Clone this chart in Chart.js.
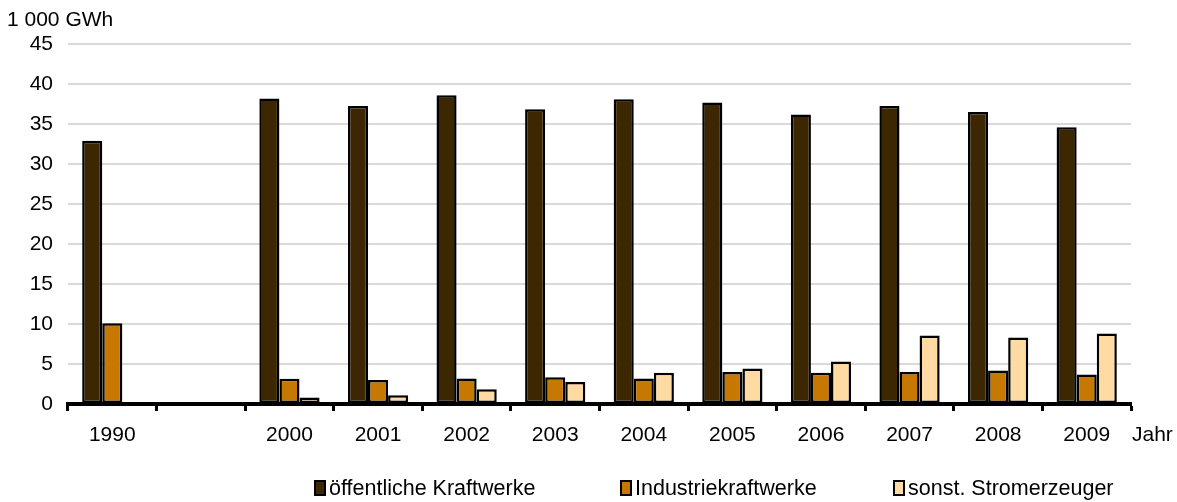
<!DOCTYPE html>
<html>
<head>
<meta charset="utf-8">
<script src="https://cdn.jsdelivr.net/npm/chart.js@4/dist/chart.umd.min.js"></script>
<style>
  html, body { margin:0; padding:0; background:#fff; }
  #wrap { position:relative; width:1177px; height:502px; font-family:"Liberation Sans", Arial, sans-serif; color:#000; }
  #c { position:absolute; left:0; top:0; }
  .lbl { position:absolute; white-space:nowrap; font-size:21px; line-height:21px; }
  .leg { position:absolute; white-space:nowrap; font-size:21.5px; line-height:22px; display:flex; align-items:center; }
  .box { display:inline-block; width:8px; height:12px; border:2px solid #000; margin-right:3px; }
</style>
</head>
<body>
<div id="wrap">
  <canvas id="c" width="1177" height="502"></canvas>
  <div class="lbl" style="left:7px; top:8px;">1 000 GWh</div>
  <div class="lbl" style="left:1132px; top:423px;">Jahr</div>
  <div class="leg" style="left:314px; top:477px;"><span class="box" style="background:#3d2700"></span>öffentliche Kraftwerke</div>
  <div class="leg" style="left:620px; top:477px;"><span class="box" style="background:#c77800"></span>Industriekraftwerke</div>
  <div class="leg" style="left:893px; top:477px;"><span class="box" style="background:#ffdba3"></span>sonst. Stromerzeuger</div>
</div>
<script>
const categories = ['1990', '', '2000', '2001', '2002', '2003', '2004', '2005', '2006', '2007', '2008', '2009'];
const oeffentliche = [32.9, null, 38.2, 37.25, 38.6, 36.85, 38.1, 37.7, 36.2, 37.25, 36.5, 34.6];
const industrie = [10.1, null, 3.15, 3.0, 3.2, 3.35, 3.2, 4.0, 3.9, 4.0, 4.2, 3.7];
const sonstige = [null, null, 0.8, 1.1, 1.85, 2.75, 3.9, 4.45, 5.3, 8.55, 8.3, 8.8];
const yTicks = [0, 5, 10, 15, 20, 25, 30, 35, 40, 45];
const seriesNames = ['öffentliche Kraftwerke', 'Industriekraftwerke', 'sonst. Stromerzeuger'];

const common = { borderColor:'#000', borderWidth:2.5, borderSkipped:false, barPercentage:1.0, categoryPercentage:0.68 };

new Chart(document.getElementById('c'), {
  type: 'bar',
  data: {
    labels: categories,
    datasets: [
      Object.assign({ label: seriesNames[0], data: oeffentliche, backgroundColor:'#3d2700' }, common),
      Object.assign({ label: seriesNames[1], data: industrie, backgroundColor:'#c77800' }, common),
      Object.assign({ label: seriesNames[2], data: sonstige, backgroundColor:'#ffdba3' }, common)
    ]
  },
  options: {
    responsive: false,
    animation: false,
    devicePixelRatio: 1,
    layout: { padding: { top: 44, right: 46, left: 0, bottom: 0 } },
    plugins: { legend: { display: false }, tooltip: { enabled: false } },
    scales: {
      x: {
        offset: true,
        grid: { drawOnChartArea: false, drawTicks: true, tickLength: 7, tickWidth: 3, tickColor: '#000', offset: true },
        border: { color: '#000', width: 4 },
        ticks: { color: '#000', font: { family: 'Liberation Sans', size: 21 }, padding: 12, maxRotation: 0, autoSkip: false },
        afterFit: s => { s.height = 98; }
      },
      y: {
        min: 0, max: 45,
        afterBuildTicks: s => { s.ticks = yTicks.map(v => ({ value: v })); },
        grid: { color: '#d9d9d9', lineWidth: 2, drawTicks: false },
        border: { display: false },
        ticks: { color: '#000', font: { family: 'Liberation Sans', size: 21 }, padding: 15 },
        afterFit: s => { s.width = 68; }
      }
    }
  }
});
</script>
</body>
</html>
